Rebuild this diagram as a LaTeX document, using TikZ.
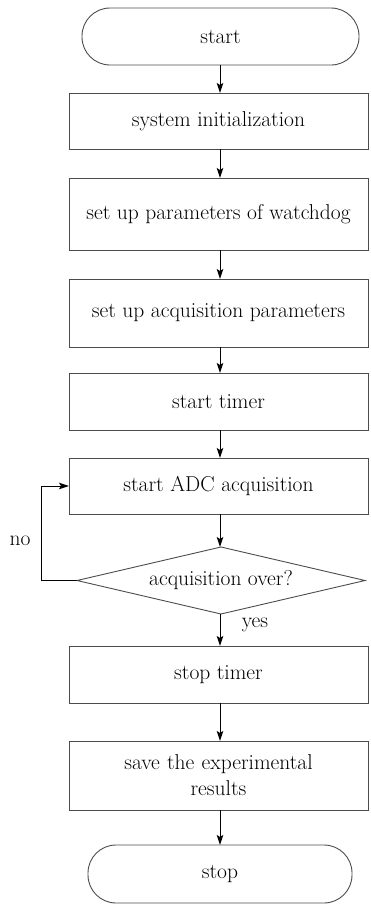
\documentclass[tikz,border=0pt]{standalone}
\usetikzlibrary{shapes.geometric,arrows.meta}
\begin{document}
\begin{tikzpicture}[x=1pt,y=-1pt,
  font=\fontsize{21.5}{25}\selectfont,
  every node/.style={inner sep=0pt, outer sep=0pt, align=center},
  procbox/.style={draw=black!70, line width=0.9pt, rectangle, minimum width=299pt},
  termbox/.style={draw=black!70, line width=0.9pt, rectangle, rounded corners=28pt},
  decbox/.style={draw=black!70, line width=0.9pt, diamond, aspect=4.3, minimum width=288pt, minimum height=67pt},
  flow/.style={draw=black, line width=1pt, -{Stealth[length=10pt,width=6.5pt,inset=2pt]}},
  lbl/.style={font=\fontsize{21.5}{25}\selectfont}
]
\useasboundingbox (0,0) rectangle (370,905);
\node[termbox, minimum width=277pt, minimum height=57pt] (start) at (220.5,36.5) {start};
\node[procbox, minimum height=56pt] (b1) at (218.5,121) {system initialization};
\node[procbox, minimum height=72pt] (b2) at (218.5,214) {set up parameters of watchdog};
\node[procbox, minimum height=68pt] (b3) at (218.5,313) {set up acquisition parameters};
\node[procbox, minimum height=57pt] (b4) at (218.5,401.5) {start timer};
\node[procbox, minimum height=56pt] (b5) at (218.5,486) {start ADC acquisition};
\node[decbox] (d) at (221,580.5) {acquisition over?};
\node[procbox, minimum height=69pt, text width=280pt] (b7) at (218.5,775.5) {save the experimental\\[1pt] results};
\node[procbox, minimum height=57pt] (b6) at (218.5,674.5) {stop timer};
\node[termbox, minimum width=264pt, minimum height=58pt] (stop) at (220,874) {stop};
\coordinate (lx) at (41,580.5);
\coordinate (ly) at (41,486);
\node[lbl] (no) at (20,541) {no};
\node[lbl] (yes) at (255,625) {yes};

\draw[flow] (start.south -| 220,0) -- (b1.north -| 220,0);
\draw[flow] (b1.south -| 220,0) -- (b2.north -| 220,0);
\draw[flow] (b2.south -| 220,0) -- (b3.north -| 220,0);
\draw[flow] (b3.south -| 220,0) -- (b4.north -| 220,0);
\draw[flow] (b4.south -| 220,0) -- (b5.north -| 220,0);
\draw[flow] (b5.south -| 220,0) -- (d.north -| 220,0);
\draw[flow] (d.south -| 220,0) -- (b6.north -| 220,0);
\draw[flow] (b6.south -| 220,0) -- (b7.north -| 220,0);
\draw[flow] (b7.south -| 220,0) -- (stop.north -| 220,0);
\draw[flow] (d.west) -- (lx) -- (ly) -- (b5.west);
\end{tikzpicture}
\end{document}
